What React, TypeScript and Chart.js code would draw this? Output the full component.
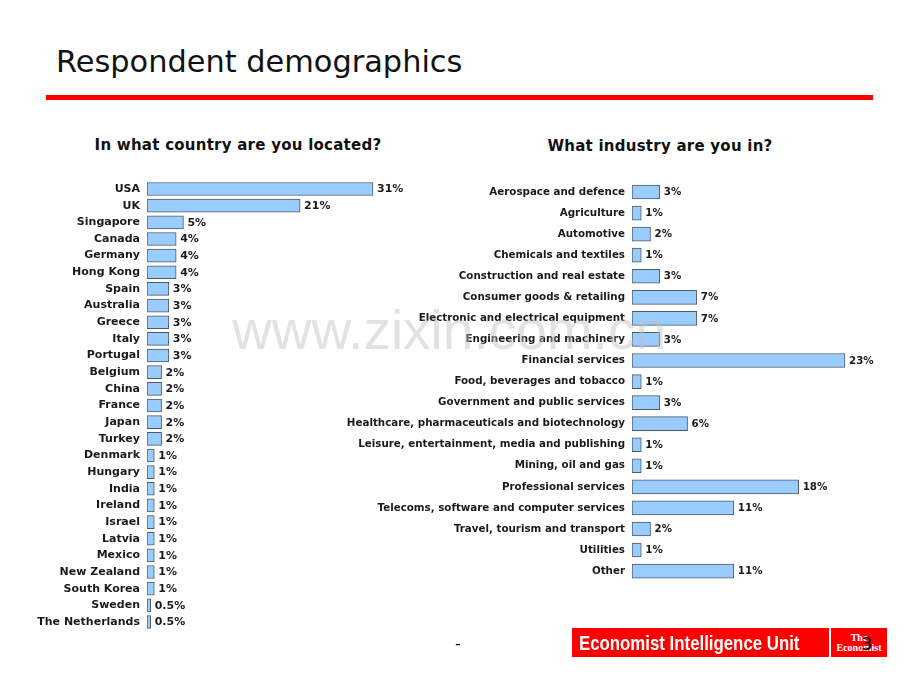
import React, { useEffect, useRef } from "react";
import { Chart, registerables } from "chart.js";

Chart.register(...registerables);

const countries = [
  "USA", "UK", "Singapore", "Canada", "Germany", "Hong Kong", "Spain", "Australia", "Greece",
  "Italy", "Portugal", "Belgium", "China", "France", "Japan", "Turkey", "Denmark", "Hungary",
  "India", "Ireland", "Israel", "Latvia", "Mexico", "New Zealand", "South Korea", "Sweden",
  "The Netherlands",
];
const countryShares = [31, 21, 5, 4, 4, 4, 3, 3, 3, 3, 3, 2, 2, 2, 2, 2, 1, 1, 1, 1, 1, 1, 1, 1, 1, 0.5, 0.5];

const industries = [
  "Aerospace and defence", "Agriculture", "Automotive", "Chemicals and textiles",
  "Construction and real estate", "Consumer goods & retailing", "Electronic and electrical equipment",
  "Engineering and machinery", "Financial services", "Food, beverages and tobacco",
  "Government and public services", "Healthcare, pharmaceuticals and biotechnology",
  "Leisure, entertainment, media and publishing", "Mining, oil and gas", "Professional services",
  "Telecoms, software and computer services", "Travel, tourism and transport", "Utilities", "Other",
];
const industryShares = [3, 1, 2, 1, 3, 7, 7, 3, 23, 1, 3, 6, 1, 1, 18, 11, 2, 1, 11];

const FONT = "'DejaVu Sans', Verdana, sans-serif";

const valueLabels = (fontSize: number) => ({
  id: "valueLabels",
  afterDatasetsDraw(chart: any) {
    const ctx = chart.ctx;
    const meta = chart.getDatasetMeta(0);
    const data = chart.data.datasets[0].data as number[];
    ctx.save();
    ctx.font = `bold ${fontSize}px ${FONT}`;
    ctx.fillStyle = "#1a1a1a";
    ctx.textBaseline = "middle";
    ctx.textAlign = "left";
    meta.data.forEach((bar: any, i: number) => {
      ctx.fillText(`${data[i]}%`, bar.x + 4, bar.y + 0.5);
    });
    ctx.restore();
  },
});

function makeConfig(
  labels: string[],
  values: number[],
  max: number,
  axisWidth: number,
  padding: { top: number; bottom: number; right: number },
  barThickness: number,
  fontSize: number
): any {
  return {
    type: "bar",
    data: {
      labels,
      datasets: [
        {
          data: values,
          backgroundColor: "#99CCFF",
          borderColor: "#4F5966",
          borderWidth: 1,
          borderSkipped: false,
          barThickness,
        },
      ],
    },
    options: {
      indexAxis: "y",
      animation: false,
      responsive: false,
      maintainAspectRatio: false,
      layout: { padding: { left: 0, top: padding.top, bottom: padding.bottom, right: padding.right } },
      plugins: { legend: { display: false }, tooltip: { enabled: false }, title: { display: false } },
      scales: {
        x: { display: false, min: 0, max },
        y: {
          afterFit(scale: any) {
            scale.width = axisWidth;
          },
          grid: { display: false, drawTicks: false },
          border: { display: false },
          ticks: {
            padding: 7,
            color: "#1a1a1a",
            autoSkip: false,
            font: { family: FONT, size: fontSize, weight: "bold" },
          },
        },
      },
    },
    plugins: [valueLabels(fontSize)],
  };
}

function BarChart(props: {
  left: number;
  width: number;
  config: any;
}) {
  const ref = useRef<HTMLCanvasElement | null>(null);
  useEffect(() => {
    if (!ref.current) return;
    const chart = new Chart(ref.current, props.config);
    return () => chart.destroy();
  }, []);
  return (
    <canvas
      ref={ref}
      width={props.width}
      height={690}
      style={{ position: "absolute", left: props.left, top: 0, width: props.width, height: 690 }}
    />
  );
}

export default function App() {
  const leftConfig = makeConfig(countries, countryShares, 40, 147, { top: 180.7, bottom: 59.7, right: 21.4 }, 13, 11);
  const rightConfig = makeConfig(industries, industryShares, 25, 302, { top: 181.5, bottom: 108.4, right: 56.5 }, 14, 10.3);
  return (
    <div
      style={{
        position: "fixed",
        left: 0,
        top: 0,
        width: 920,
        height: 690,
        background: "#ffffff",
        overflow: "hidden",
        fontFamily: FONT,
      }}
    >
      <div style={{ position: "absolute", left: 56, top: 42, fontSize: 30.4, color: "#111", whiteSpace: "nowrap", lineHeight: "40px" }}>
        Respondent demographics
      </div>
      <div style={{ position: "absolute", left: 46, top: 95, width: 827, height: 5, background: "#FF0000" }} />
      <div style={{ position: "absolute", left: 38, top: 134, width: 400, textAlign: "center", fontSize: 15, letterSpacing: 0.25, fontWeight: "bold", color: "#111", lineHeight: "22px" }}>
        In what country are you located?
      </div>
      <div style={{ position: "absolute", left: 460, top: 135, width: 400, textAlign: "center", fontSize: 15, letterSpacing: 0.25, fontWeight: "bold", color: "#111", lineHeight: "22px" }}>
        What industry are you in?
      </div>
      <BarChart left={0} width={460} config={leftConfig} />
      <BarChart left={330} width={590} config={rightConfig} />
      <div
        style={{
          position: "absolute",
          left: 232,
          top: 298,
          fontFamily: "'Liberation Sans', Arial, sans-serif",
          fontSize: 55,
          lineHeight: "64px",
          color: "rgba(190,190,190,0.45)",
          whiteSpace: "nowrap",
          pointerEvents: "none",
        }}
      >
        www.zixin.com.cn
      </div>
      <div style={{ position: "absolute", left: 455, top: 634, fontSize: 16, color: "#111" }}>-</div>
      <div
        style={{
          position: "absolute",
          left: 572,
          top: 628,
          width: 257,
          height: 29,
          background: "#FF0000",
          overflow: "hidden",
        }}
      >
        <span
          style={{
            position: "absolute",
            left: 7,
            top: 0,
            color: "#fff",
            fontFamily: "'Liberation Sans', Arial, sans-serif",
            fontWeight: "bold",
            fontSize: 20.5,
            lineHeight: "29px",
            whiteSpace: "nowrap",
            display: "inline-block",
            transform: "scaleX(0.82)",
            transformOrigin: "left center",
          }}
        >
          Economist Intelligence Unit
        </span>
      </div>
      <div
        style={{
          position: "absolute",
          left: 831,
          top: 628,
          width: 56,
          height: 29,
          background: "#FF0000",
          color: "#fff",
          fontFamily: "'Liberation Serif', serif",
          fontWeight: "bold",
          fontSize: 10,
          lineHeight: "10px",
          textAlign: "center",
          boxSizing: "border-box",
          paddingTop: 5,
        }}
      >
        The
        <br />
        Economist
      </div>
      <div style={{ position: "absolute", left: 861, top: 633, fontSize: 18, color: "#000", lineHeight: "22px" }}>3</div>
    </div>
  );
}
